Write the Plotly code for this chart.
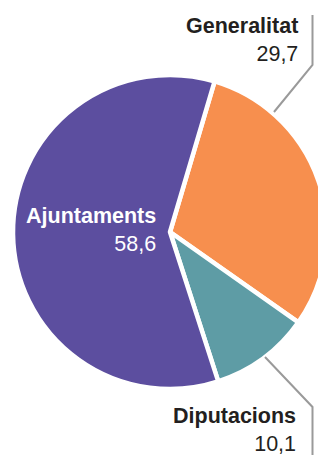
import plotly.graph_objects as go

# ---- data ----
categories = ["Generalitat", "Diputacions", "Ajuntaments"]
values = [29.7, 10.1, 58.6]
colors = ["#F78F4E", "#5E9CA5", "#5C4E9F"]

W, H = 340, 455
FONT = "Liberation Sans, Arial, Helvetica, sans-serif"


def px(x):
    return x / W


def py(y):
    return 1 - y / H


def fmt(v):
    return f"{v:.1f}".replace(".", ",")


cx, cy, r = 170, 232, 157

fig = go.Figure(
    go.Pie(
        labels=categories,
        values=values,
        sort=False,
        direction="clockwise",
        rotation=16.5,
        marker=dict(colors=colors, line=dict(color="white", width=4.5)),
        textinfo="none",
        hoverinfo="label+value",
        showlegend=False,
        domain=dict(x=[px(cx - r), px(cx + r)], y=[py(cy + r), py(cy - r)]),
    )
)

# label placements (page pixel anchors: right edge, top of text box)
label_pos = {
    "Generalitat": (299, 13, "#231F20"),
    "Diputacions": (297, 403, "#231F20"),
    "Ajuntaments": (157, 203, "white"),
}
for cat, val in zip(categories, values):
    x, y, c = label_pos[cat]
    fig.add_annotation(
        x=px(x), y=py(y), xref="paper", yref="paper",
        xanchor="right", yanchor="top", align="right",
        text=f"<b>{cat}</b><br>{fmt(val)}",
        showarrow=False, borderpad=0,
        font=dict(family=FONT, size=21.5, color=c),
    )

# leader lines
leaders = [
    [(274, 112), (312.5, 65), (312.5, 15)],
    [(265, 357), (312.5, 407), (312.5, 462)],
]
for pts in leaders:
    d = "M " + " L ".join(f"{px(a)},{py(b)}" for a, b in pts)
    fig.add_shape(type="path", path=d, xref="paper", yref="paper",
                  line=dict(color="#9A9A9A", width=2), layer="above")

fig.update_layout(
    width=W, height=H,
    margin=dict(l=0, r=0, t=0, b=0),
    paper_bgcolor="white", plot_bgcolor="white",
)

fig.write_html(
    "out.html",
    config={"displayModeBar": False},
    post_script="document.body.style.margin='0';document.body.style.overflow='hidden';",
)
